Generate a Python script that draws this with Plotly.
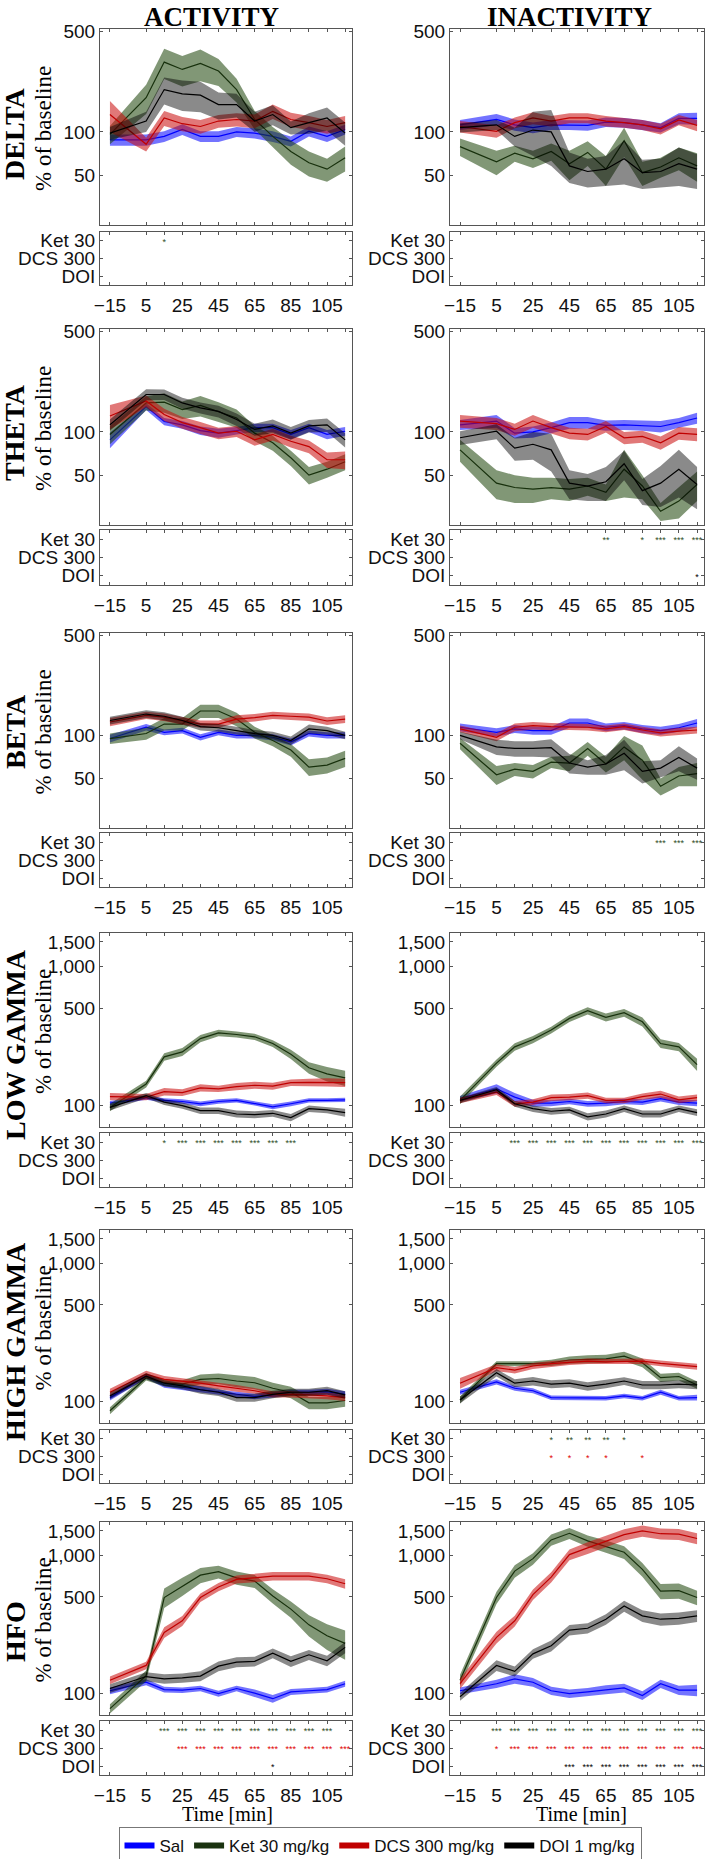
import plotly.graph_objects as go

W, H = 709, 1859

# ---------------- categories / ticks ----------------
time_min = [-15, 5, 15, 25, 35, 45, 55, 65, 75, 85, 95, 105, 115]
x_tick_vals = [-15, 5, 15, 25, 35, 45, 55, 65, 75, 85, 95, 105, 115]
x_tick_text = ["\u221215", "5", "", "25", "", "45", "", "65", "", "85", "", "105", ""]
band_names = ["DELTA", "THETA", "BETA", "LOW GAMMA", "HIGH GAMMA", "HFO"]
state_names = ["ACTIVITY", "INACTIVITY"]
group_names = ["Sal", "Ket 30 mg/kg", "DCS 300 mg/kg", "DOI 1 mg/kg"]
sig_labels = ["Ket 30", "DCS 300", "DOI"]
y_ticks_slow = [50, 100, 500]
y_ticks_slow_text = ["50", "100", "500"]
y_ticks_fast = [100, 500, 1000, 1500]
y_ticks_fast_text = ["100", "500", "1,000", "1,500"]

# ---------------- data: mean and SEM (% of baseline) ----------------
# DELTA - activity
delta_act_sal = [88, 88, 93, 104, 93, 93, 100, 98, 93, 86, 101, 93, 104]
delta_act_sal_sem = [8, 8, 8, 9, 8, 8, 8, 8, 8, 7, 8, 8, 8]
delta_act_ket = [96, 173, 306, 272, 300, 265, 197, 122, 93, 73, 61, 55, 66]
delta_act_ket_sem = [14, 40, 73, 65, 75, 56, 37, 18, 15, 14, 12, 10, 13]
delta_act_dcs = [132, 82, 125, 114, 109, 119, 122, 119, 139, 122, 116, 109, 116]
delta_act_dcs_sem = [32, 9, 15, 13, 12, 12, 13, 13, 16, 14, 13, 12, 13]
delta_act_doi = [98, 119, 197, 184, 180, 155, 155, 119, 132, 107, 116, 125, 98]
delta_act_doi_sem = [10, 19, 42, 44, 43, 33, 29, 19, 21, 11, 19, 23, 18]
# DELTA - inactivity
delta_inact_sal = [112, 122, 112, 107, 112, 112, 111, 117, 116, 112, 107, 124, 124]
delta_inact_sal_sem = [9, 11, 10, 9, 9, 9, 9, 9, 9, 9, 8, 11, 12]
delta_inact_ket = [79, 62, 71, 65, 73, 60, 72, 55, 87, 52, 57, 66, 58]
delta_inact_ket_sem = [11, 12, 9, 9, 10, 14, 14, 13, 20, 10, 9, 12, 13]
delta_inact_dcs = [109, 101, 116, 125, 119, 125, 125, 119, 116, 112, 105, 121, 111]
delta_inact_dcs_sem = [10, 10, 10, 12, 10, 10, 10, 10, 9, 9, 9, 10, 10]
delta_inact_doi = [107, 112, 93, 103, 100, 58, 53, 55, 65, 52, 53, 60, 55]
delta_inact_doi_sem = [8, 9, 14, 35, 42, 14, 12, 13, 22, 12, 12, 18, 15]
# THETA - activity
theta_act_sal = [88, 150, 118, 112, 102, 98, 102, 107, 107, 96, 107, 96, 101]
theta_act_sal_sem = [11, 8, 7, 7, 7, 7, 6, 7, 7, 7, 7, 7, 7]
theta_act_ket = [96, 159, 161, 143, 153, 139, 125, 98, 84, 66, 50, 55, 62]
theta_act_ket_sem = [14, 18, 25, 20, 25, 22, 18, 12, 10, 8, 7, 7, 8]
theta_act_dcs = [129, 164, 132, 116, 107, 98, 101, 88, 96, 86, 79, 64, 64]
theta_act_dcs_sem = [25, 15, 13, 11, 10, 9, 9, 8, 9, 8, 8, 8, 9]
theta_act_doi = [112, 182, 182, 159, 147, 139, 122, 104, 110, 98, 110, 112, 88]
theta_act_doi_sem = [10, 16, 15, 14, 13, 13, 12, 10, 12, 10, 11, 12, 10]
# THETA - inactivity
theta_inact_sal = [112, 119, 98, 100, 107, 116, 116, 111, 112, 111, 109, 116, 125]
theta_inact_sal_sem = [9, 12, 8, 9, 9, 11, 11, 9, 9, 9, 10, 9, 11]
theta_inact_ket = [75, 44, 41, 40, 41, 40, 42, 38, 55, 42, 28, 33, 43]
theta_inact_ket_sem = [13, 10, 9, 8, 7, 7, 6, 5, 20, 8, 4, 8, 10]
theta_inact_dcs = [119, 114, 104, 119, 107, 98, 96, 109, 91, 93, 84, 98, 96]
theta_inact_dcs_sem = [12, 11, 10, 12, 10, 9, 9, 10, 9, 9, 9, 10, 10]
theta_inact_doi = [91, 101, 77, 82, 75, 44, 42, 45, 60, 39, 44, 55, 43]
theta_inact_doi_sem = [10, 12, 14, 18, 22, 10, 9, 12, 14, 8, 14, 20, 14]
# BETA - activity
beta_act_sal = [95, 114, 105, 108, 97, 105, 100, 100, 97, 90, 103, 100, 100]
beta_act_sal_sem = [6, 6, 5, 5, 5, 5, 5, 5, 5, 5, 5, 5, 5]
beta_act_ket = [95, 103, 120, 120, 148, 148, 130, 105, 92, 79, 60, 62, 69]
beta_act_ket_sem = [8, 10, 12, 12, 16, 16, 14, 10, 8, 8, 8, 8, 9]
beta_act_dcs = [124, 138, 134, 127, 120, 120, 130, 133, 138, 136, 134, 126, 130]
beta_act_dcs_sem = [8, 8, 8, 8, 7, 7, 8, 8, 8, 8, 8, 8, 8]
beta_act_doi = [127, 141, 136, 127, 115, 113, 108, 103, 100, 92, 111, 108, 100]
beta_act_doi_sem = [8, 9, 9, 8, 7, 7, 7, 6, 6, 6, 8, 7, 6]
# BETA - inactivity
beta_inact_sal = [114, 105, 111, 108, 108, 122, 122, 114, 117, 111, 108, 113, 122]
beta_inact_sal_sem = [7, 7, 7, 7, 7, 9, 9, 7, 7, 7, 7, 7, 8]
beta_inact_ket = [88, 53, 58, 56, 65, 64, 81, 63, 83, 67, 44, 52, 54]
beta_inact_ket_sem = [8, 8, 6, 6, 6, 8, 9, 8, 16, 18, 6, 8, 10]
beta_inact_dcs = [111, 97, 114, 117, 115, 115, 114, 111, 115, 109, 104, 107, 109]
beta_inact_dcs_sem = [6, 6, 7, 7, 7, 6, 6, 6, 6, 6, 6, 6, 6]
beta_inact_doi = [100, 83, 81, 81, 82, 64, 60, 63, 75, 56, 59, 70, 59]
beta_inact_doi_sem = [6, 10, 10, 10, 12, 10, 7, 10, 18, 10, 8, 14, 10]
# LOW GAMMA - activity
lowg_act_sal = [104, 114, 109, 107, 103, 107, 109, 104, 98, 103, 109, 109, 110]
lowg_act_sal_sem = [4, 4, 4, 4, 4, 4, 4, 4, 4, 4, 4, 4, 4]
lowg_act_ket = [97, 143, 224, 243, 303, 333, 324, 312, 279, 234, 187, 169, 158]
lowg_act_ket_sem = [6, 8, 14, 16, 18, 18, 16, 16, 16, 18, 18, 20, 20]
lowg_act_dcs = [116, 115, 126, 124, 134, 132, 137, 140, 138, 146, 147, 147, 146]
lowg_act_dcs_sem = [7, 6, 8, 7, 8, 7, 8, 8, 8, 8, 9, 10, 10]
lowg_act_doi = [97, 118, 106, 100, 92, 92, 87, 86, 88, 82, 95, 93, 89]
lowg_act_doi_sem = [5, 5, 5, 5, 5, 5, 5, 5, 5, 5, 5, 5, 6]
# LOW GAMMA - inactivity
lowg_inact_sal = [112, 132, 115, 104, 104, 107, 103, 104, 107, 106, 112, 106, 104]
lowg_inact_sal_sem = [5, 10, 8, 6, 5, 5, 5, 5, 5, 5, 5, 5, 5]
lowg_inact_ket = [109, 202, 264, 298, 349, 423, 480, 430, 465, 400, 279, 264, 197]
lowg_inact_ket_sem = [7, 12, 16, 18, 20, 25, 28, 28, 30, 30, 20, 18, 20]
lowg_inact_dcs = [109, 125, 103, 106, 114, 115, 118, 109, 109, 116, 121, 110, 114]
lowg_inact_dcs_sem = [5, 6, 5, 5, 6, 6, 6, 5, 5, 6, 7, 6, 6]
lowg_inact_doi = [109, 130, 103, 95, 91, 93, 83, 87, 95, 87, 87, 95, 89]
lowg_inact_doi_sem = [5, 6, 5, 5, 5, 5, 5, 5, 5, 5, 5, 5, 5]
# HIGH GAMMA - activity
highg_act_sal = [107, 153, 132, 127, 123, 117, 113, 109, 112, 117, 117, 118, 113]
highg_act_sal_sem = [5, 6, 6, 6, 6, 5, 5, 5, 5, 5, 5, 6, 6]
highg_act_ket = [86, 149, 137, 134, 145, 147, 141, 137, 125, 117, 98, 98, 102]
highg_act_ket_sem = [5, 7, 8, 9, 12, 13, 14, 14, 12, 11, 10, 10, 10]
highg_act_dcs = [117, 158, 145, 141, 136, 130, 125, 120, 113, 113, 112, 110, 107]
highg_act_dcs_sem = [7, 9, 8, 7, 7, 7, 7, 6, 6, 6, 6, 6, 6]
highg_act_doi = [110, 153, 136, 130, 122, 117, 107, 107, 113, 117, 117, 120, 112]
highg_act_doi_sem = [6, 8, 7, 7, 8, 7, 7, 7, 7, 7, 7, 8, 7]
# HIGH GAMMA - inactivity
highg_inact_sal = [117, 139, 125, 120, 107, 107, 106, 106, 110, 106, 117, 106, 107]
highg_inact_sal_sem = [5, 6, 5, 5, 4, 4, 4, 4, 4, 4, 5, 4, 5]
highg_inact_ket = [103, 188, 188, 188, 191, 200, 202, 204, 213, 191, 149, 152, 132]
highg_inact_ket_sem = [6, 8, 8, 8, 10, 12, 14, 14, 16, 14, 10, 10, 8]
highg_inact_dcs = [136, 176, 169, 181, 188, 193, 196, 194, 196, 196, 189, 183, 179]
highg_inact_dcs_sem = [12, 10, 9, 9, 9, 9, 9, 9, 9, 9, 9, 9, 9]
highg_inact_doi = [103, 162, 136, 141, 134, 136, 129, 134, 141, 132, 132, 134, 132]
highg_inact_doi_sem = [6, 10, 9, 10, 9, 9, 9, 9, 9, 9, 9, 9, 9]
# HFO - activity
hfo_act_sal = [105, 121, 107, 106, 109, 100, 109, 101, 92, 103, 105, 107, 118]
hfo_act_sal_sem = [6, 6, 5, 5, 5, 5, 5, 6, 6, 5, 5, 5, 6]
hfo_act_ket = [78, 135, 495, 598, 718, 760, 687, 650, 508, 408, 314, 262, 231]
hfo_act_ket_sem = [6, 12, 80, 90, 90, 80, 75, 70, 60, 55, 55, 55, 55]
hfo_act_dcs = [125, 160, 277, 336, 495, 589, 669, 687, 706, 706, 706, 676, 622]
hfo_act_dcs_sem = [8, 10, 25, 28, 35, 40, 45, 50, 50, 50, 50, 48, 50]
hfo_act_doi = [109, 133, 128, 130, 134, 158, 169, 171, 196, 171, 191, 173, 216]
hfo_act_doi_sem = [8, 10, 10, 10, 11, 13, 14, 14, 16, 15, 16, 15, 20]
# HFO - inactivity
hfo_inact_sal = [105, 118, 128, 121, 105, 100, 103, 107, 110, 97, 118, 106, 106]
hfo_inact_sal_sem = [6, 8, 10, 9, 7, 7, 7, 8, 8, 7, 8, 8, 10]
hfo_inact_ket = [125, 495, 768, 945, 1290, 1440, 1270, 1160, 1050, 790, 550, 555, 495]
hfo_inact_ket_sem = [12, 50, 80, 90, 120, 130, 120, 120, 110, 90, 70, 70, 60]
hfo_inact_dcs = [118, 255, 336, 520, 695, 1010, 1130, 1260, 1410, 1500, 1430, 1420, 1320]
hfo_inact_dcs_sem = [10, 25, 30, 45, 60, 90, 110, 120, 130, 140, 130, 130, 120]
hfo_inact_doi = [95, 160, 145, 194, 222, 288, 297, 345, 430, 365, 345, 350, 365]
hfo_inact_doi_sem = [6, 14, 12, 15, 20, 25, 25, 30, 40, 35, 35, 35, 35]

# ---------------- significance marks (time, stars) ----------------
sig_delta_act_ket = [(15, "*")]
sig_theta_inact_ket = [(65, "**"), (85, "*"), (95, "***"), (105, "***"), (115, "***")]
sig_theta_inact_doi = [(115, "*")]
sig_beta_inact_ket = [(95, "***"), (105, "***"), (115, "***")]
sig_lowg_act_ket = [(15, "*"), (25, "***"), (35, "***"), (45, "***"), (55, "***"),
                    (65, "***"), (75, "***"), (85, "***")]
sig_lowg_inact_ket = [(15, "***"), (25, "***"), (35, "***"), (45, "***"), (55, "***"),
                      (65, "***"), (75, "***"), (85, "***"), (95, "***"), (105, "***"), (115, "***")]
sig_highg_inact_ket = [(35, "*"), (45, "**"), (55, "**"), (65, "**"), (75, "*")]
sig_highg_inact_dcs = [(35, "*"), (45, "*"), (55, "*"), (65, "*"), (85, "*")]
sig_hfo_act_ket = [(15, "***"), (25, "***"), (35, "***"), (45, "***"), (55, "***"),
                   (65, "***"), (75, "***"), (85, "***"), (95, "***"), (105, "***")]
sig_hfo_act_dcs = [(25, "***"), (35, "***"), (45, "***"), (55, "***"), (65, "***"),
                   (75, "***"), (85, "***"), (95, "***"), (105, "***"), (115, "***")]
sig_hfo_act_doi = [(75, "*")]
sig_hfo_inact_ket = [(5, "***"), (15, "***"), (25, "***"), (35, "***"), (45, "***"), (55, "***"),
                     (65, "***"), (75, "***"), (85, "***"), (95, "***"), (105, "***"), (115, "***")]
sig_hfo_inact_dcs = [(5, "*"), (15, "***"), (25, "***"), (35, "***"), (45, "***"), (55, "***"),
                     (65, "***"), (75, "***"), (85, "***"), (95, "***"), (105, "***"), (115, "***")]
sig_hfo_inact_doi = [(45, "***"), (55, "***"), (65, "***"), (75, "***"), (85, "***"),
                     (95, "***"), (105, "***"), (115, "***")]

# ---------------- tables built from the arrays ----------------
panel_series = {
    (0, 0): [(delta_act_sal, delta_act_sal_sem), (delta_act_ket, delta_act_ket_sem),
             (delta_act_dcs, delta_act_dcs_sem), (delta_act_doi, delta_act_doi_sem)],
    (0, 1): [(delta_inact_sal, delta_inact_sal_sem), (delta_inact_ket, delta_inact_ket_sem),
             (delta_inact_dcs, delta_inact_dcs_sem), (delta_inact_doi, delta_inact_doi_sem)],
    (1, 0): [(theta_act_sal, theta_act_sal_sem), (theta_act_ket, theta_act_ket_sem),
             (theta_act_dcs, theta_act_dcs_sem), (theta_act_doi, theta_act_doi_sem)],
    (1, 1): [(theta_inact_sal, theta_inact_sal_sem), (theta_inact_ket, theta_inact_ket_sem),
             (theta_inact_dcs, theta_inact_dcs_sem), (theta_inact_doi, theta_inact_doi_sem)],
    (2, 0): [(beta_act_sal, beta_act_sal_sem), (beta_act_ket, beta_act_ket_sem),
             (beta_act_dcs, beta_act_dcs_sem), (beta_act_doi, beta_act_doi_sem)],
    (2, 1): [(beta_inact_sal, beta_inact_sal_sem), (beta_inact_ket, beta_inact_ket_sem),
             (beta_inact_dcs, beta_inact_dcs_sem), (beta_inact_doi, beta_inact_doi_sem)],
    (3, 0): [(lowg_act_sal, lowg_act_sal_sem), (lowg_act_ket, lowg_act_ket_sem),
             (lowg_act_dcs, lowg_act_dcs_sem), (lowg_act_doi, lowg_act_doi_sem)],
    (3, 1): [(lowg_inact_sal, lowg_inact_sal_sem), (lowg_inact_ket, lowg_inact_ket_sem),
             (lowg_inact_dcs, lowg_inact_dcs_sem), (lowg_inact_doi, lowg_inact_doi_sem)],
    (4, 0): [(highg_act_sal, highg_act_sal_sem), (highg_act_ket, highg_act_ket_sem),
             (highg_act_dcs, highg_act_dcs_sem), (highg_act_doi, highg_act_doi_sem)],
    (4, 1): [(highg_inact_sal, highg_inact_sal_sem), (highg_inact_ket, highg_inact_ket_sem),
             (highg_inact_dcs, highg_inact_dcs_sem), (highg_inact_doi, highg_inact_doi_sem)],
    (5, 0): [(hfo_act_sal, hfo_act_sal_sem), (hfo_act_ket, hfo_act_ket_sem),
             (hfo_act_dcs, hfo_act_dcs_sem), (hfo_act_doi, hfo_act_doi_sem)],
    (5, 1): [(hfo_inact_sal, hfo_inact_sal_sem), (hfo_inact_ket, hfo_inact_ket_sem),
             (hfo_inact_dcs, hfo_inact_dcs_sem), (hfo_inact_doi, hfo_inact_doi_sem)],
}
# per panel: [Ket, DCS, DOI]
panel_sig = {
    (0, 0): [sig_delta_act_ket, [], []],
    (0, 1): [[], [], []],
    (1, 0): [[], [], []],
    (1, 1): [sig_theta_inact_ket, [], sig_theta_inact_doi],
    (2, 0): [[], [], []],
    (2, 1): [sig_beta_inact_ket, [], []],
    (3, 0): [sig_lowg_act_ket, [], []],
    (3, 1): [sig_lowg_inact_ket, [], []],
    (4, 0): [[], [], []],
    (4, 1): [sig_highg_inact_ket, sig_highg_inact_dcs, []],
    (5, 0): [sig_hfo_act_ket, sig_hfo_act_dcs, sig_hfo_act_doi],
    (5, 1): [sig_hfo_inact_ket, sig_hfo_inact_dcs, sig_hfo_inact_doi],
}

# ---------------- styles ----------------
line_colors = ["#0000ff", "#17300c", "#c00000", "#000000"]
band_colors = ["rgba(0,0,255,0.55)", "rgba(25,65,5,0.55)", "rgba(200,10,10,0.55)", "rgba(0,0,0,0.46)"]
legend_colors = ["#0000ff", "#1a3310", "#c00000", "#000000"]
sig_colors = ["#2e4a1e", "#e00000", "#000000"]
AX = "#555555"
SANS = "Liberation Sans, Arial, sans-serif"
SERIF = "Liberation Serif, Times New Roman, serif"

col_px = [(100, 352), (450, 704)]
row_main_px = [(29, 225), (329, 525), (633, 828), (933, 1127), (1230, 1423), (1522, 1715)]
row_strip_px = [(232, 285), (530, 585), (833, 887), (1133, 1187), (1430, 1483), (1721, 1775)]
row_label_y = [134, 433, 732, 1045, 1342, 1632]
title_x = [211, 569]
y_range_slow = [1.352, 2.716]
y_range_fast = [1.846, 3.24]
x_range = [-20.5, 118.8]


def px_x(p):
    return p / W


def px_y(p):
    return 1 - p / H


fig = go.Figure()
layout_axes = {}


def ax_name(kind, i):
    return kind + ("" if i == 1 else str(i))


for r in range(6):
    for c in range(2):
        k = r * 2 + c
        mi, si = 2 * k + 1, 2 * k + 2
        xm, ym = ax_name("x", mi), ax_name("y", mi)
        xs, ys = ax_name("x", si), ax_name("y", si)
        xd = [px_x(col_px[c][0]), px_x(col_px[c][1])]
        common_x = dict(range=x_range, tickvals=x_tick_vals, ticks="inside", ticklen=3,
                        tickcolor=AX, showline=True, linecolor=AX, linewidth=1,
                        mirror="allticks", showgrid=False, zeroline=False)
        layout_axes[ax_name("xaxis", mi)] = dict(
            domain=xd, anchor=ym, showticklabels=False, **common_x)
        layout_axes[ax_name("xaxis", si)] = dict(
            domain=xd, anchor=ys, ticktext=x_tick_text, showticklabels=True,
            tickfont=dict(family=SANS, size=19, color="#111"), ticklabelstandoff=3, **common_x)
        fast = r >= 3
        layout_axes[ax_name("yaxis", mi)] = dict(
            domain=[px_y(row_main_px[r][1]), px_y(row_main_px[r][0])], anchor=xm,
            type="log", range=y_range_fast if fast else y_range_slow,
            tickvals=y_ticks_fast if fast else y_ticks_slow,
            ticktext=y_ticks_fast_text if fast else y_ticks_slow_text,
            ticks="inside", ticklen=3, tickcolor=AX, showline=True, linecolor=AX, linewidth=1,
            mirror="allticks", showgrid=False, zeroline=False,
            tickfont=dict(family=SANS, size=19, color="#111"))
        layout_axes[ax_name("yaxis", si)] = dict(
            domain=[px_y(row_strip_px[r][1]), px_y(row_strip_px[r][0])], anchor=xs,
            range=[0.5, 3.5], tickvals=[3, 2, 1], ticktext=sig_labels,
            ticks="inside", ticklen=3, tickcolor=AX, showline=True, linecolor=AX, linewidth=1,
            mirror="allticks", showgrid=False, zeroline=False,
            tickfont=dict(family=SANS, size=19, color="#111"))

        # shaded SEM bands + mean lines
        for g, (mean, sem) in enumerate(panel_series[(r, c)]):
            upper = [m + s for m, s in zip(mean, sem)]
            lower = [m - s for m, s in zip(mean, sem)]
            fig.add_trace(go.Scatter(
                x=time_min + time_min[::-1], y=upper + lower[::-1], fill="toself",
                fillcolor=band_colors[g], line=dict(width=0), mode="lines",
                hoverinfo="skip", showlegend=False, xaxis=xm, yaxis=ym))
            fig.add_trace(go.Scatter(
                x=time_min, y=mean, mode="lines", line=dict(color=line_colors[g], width=1.2),
                name=group_names[g], showlegend=False, xaxis=xm, yaxis=ym))

        # empty trace so that every significance strip is drawn
        fig.add_trace(go.Scatter(x=[None], y=[None], mode="markers", showlegend=False,
                                 hoverinfo="skip", xaxis=xs, yaxis=ys))
        # significance stars
        for j, marks in enumerate(panel_sig[(r, c)]):
            if not marks:
                continue
            yv = 3 - j
            fig.add_trace(go.Scatter(
                x=[t for t, _ in marks], y=[yv - 0.11] * len(marks),
                text=[s for _, s in marks], mode="text", textposition="middle center",
                textfont=dict(family=SANS, size=9, color=sig_colors[j]),
                cliponaxis=False, showlegend=False, hoverinfo="skip", xaxis=xs, yaxis=ys))

# legend entries
for g in range(4):
    fig.add_trace(go.Scatter(x=[None], y=[None], mode="lines",
                             line=dict(color=legend_colors[g], width=6),
                             name=group_names[g], showlegend=True))

annotations = []
for c, st in enumerate(state_names):
    annotations.append(dict(text="<b>%s</b>" % st, x=px_x(title_x[c]), y=1.0,
                            xref="paper", yref="paper", showarrow=False,
                            xanchor="center", yanchor="top",
                            font=dict(family=SERIF, size=27, color="#000")))
for r, bn in enumerate(band_names):
    annotations.append(dict(text="<b>%s</b>" % bn, x=px_x(15), y=px_y(row_label_y[r]),
                            xref="paper", yref="paper", showarrow=False, textangle=-90,
                            xanchor="center", yanchor="middle",
                            font=dict(family=SERIF, size=28, color="#000")))
    mid = (row_main_px[r][0] + row_main_px[r][1]) / 2 + 2
    annotations.append(dict(text="% of baseline", x=px_x(43), y=px_y(mid),
                            xref="paper", yref="paper", showarrow=False, textangle=-90,
                            xanchor="center", yanchor="middle",
                            font=dict(family=SERIF, size=23, color="#000")))
for c in range(2):
    annotations.append(dict(text="Time [min]", x=px_x([227, 581][c]), y=px_y(1814),
                            xref="paper", yref="paper", showarrow=False,
                            xanchor="center", yanchor="middle",
                            font=dict(family=SERIF, size=20, color="#000")))

fig.update_layout(
    width=W, height=H, autosize=False,
    margin=dict(l=0, r=0, t=0, b=0, autoexpand=False),
    paper_bgcolor="white", plot_bgcolor="white",
    font=dict(family=SANS, size=19, color="#111"),
    annotations=annotations,
    legend=dict(orientation="h", x=px_x(380), xanchor="center", y=px_y(1827), yanchor="top",
                bgcolor="white", bordercolor="#777", borderwidth=1,
                font=dict(family=SANS, size=17, color="#111"), itemwidth=30,
                tracegroupgap=0),
    **layout_axes,
)

fig.write_html(
    "out.html",
    config={"displayModeBar": False},
    post_script="document.body.style.margin='0';document.body.style.padding='0';"
                "document.body.style.overflow='hidden';",
)
